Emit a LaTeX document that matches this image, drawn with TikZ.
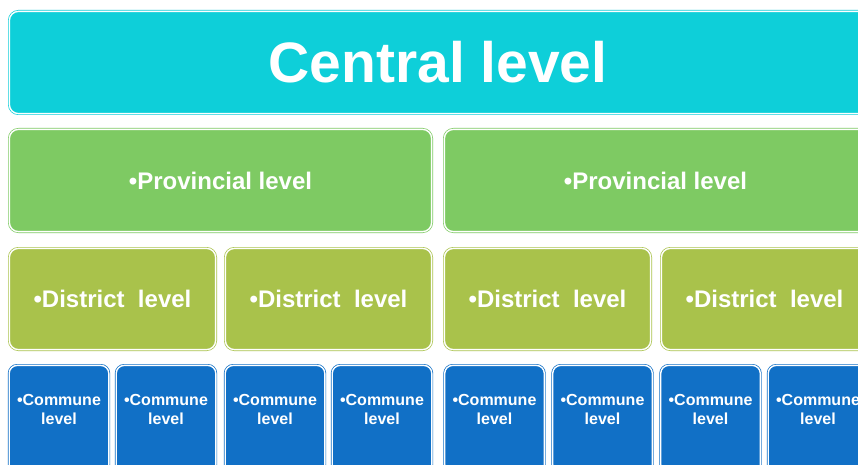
\documentclass[tikz,border=0pt]{standalone}
\usepackage{fontspec}
\setmainfont{Liberation Sans}
\definecolor{centralc}{HTML}{0ECFD9}
\definecolor{provc}{HTML}{7ECA63}
\definecolor{distc}{HTML}{A9C24B}
\definecolor{commc}{HTML}{1170C6}
\begin{document}
\begin{tikzpicture}[x=1pt,y=-1pt,
  lvlbox/.style={rectangle, rounded corners=9pt, draw=#1, fill=#1,
    line width=0.7pt, double=white, double distance=1.4pt,
    text=white, font=\bfseries, inner sep=0pt, align=center},
  centralbox/.style={lvlbox=centralc, minimum width=857.2pt, minimum height=102.2pt,
    font=\bfseries\fontsize{57}{60}\selectfont},
  provbox/.style={lvlbox=provc, minimum width=422.2pt, minimum height=102.2pt,
    font=\bfseries\fontsize{24}{28}\selectfont},
  distbox/.style={lvlbox=distc, minimum width=206.2pt, minimum height=101.2pt,
    font=\bfseries\fontsize{24}{28}\selectfont},
  commbox/.style={lvlbox=commc, rounded corners=8pt, minimum width=99.6pt, minimum height=107.2pt,
    label={[commtext]north:{•Commune\\level}}},
  commtext/.style={anchor=north, yshift=-29pt, inner sep=0pt, text=white, align=center,
    font=\bfseries\fontsize{16}{19}\selectfont}]
  \clip (0,0) rectangle (858,465);
  \useasboundingbox (0,0) rectangle (858,465);
  \fill[white] (0,0) rectangle (858,465);

  % central level
  \node[centralbox] (central) at (438,62.5) {Central level};

  % provincial level
  \node[provbox] (prov1) at (220.5,180.5) {•Provincial level};
  \node[provbox] (prov2) at (655.5,180.5) {•Provincial level};

  % district level
  \node[distbox] (dist1) at (112.5,299) {•District~~level};
  \node[distbox] (dist2) at (328.5,299) {•District~~level};
  \node[distbox] (dist3) at (547.5,299) {•District~~level};
  \node[distbox] (dist4) at (764.5,299) {•District~~level};

  % commune level
  \node[commbox] (comm1) at (59,419) {};
  \node[commbox] (comm2) at (166,419) {};
  \node[commbox] (comm3) at (275,419) {};
  \node[commbox] (comm4) at (382,419) {};
  \node[commbox] (comm5) at (494.5,419) {};
  \node[commbox] (comm6) at (602.5,419) {};
  \node[commbox] (comm7) at (710.5,419) {};
  \node[commbox] (comm8) at (818,419) {};
\end{tikzpicture}
\end{document}
